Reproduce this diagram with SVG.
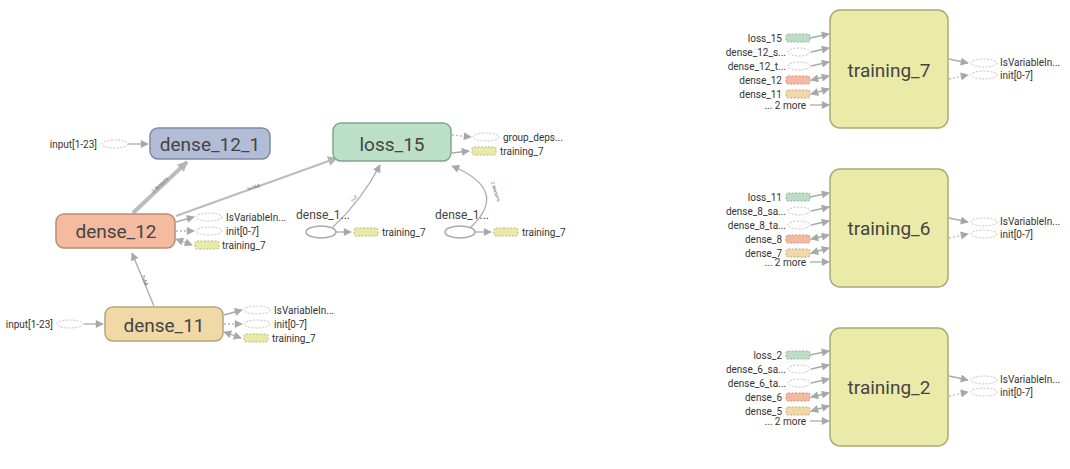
<svg xmlns="http://www.w3.org/2000/svg" width="1070" height="469" viewBox="0 0 1070 469">
<defs>
<marker id="ah" viewBox="0 0 10 10" refX="9" refY="5" markerWidth="10" markerHeight="8" markerUnits="userSpaceOnUse" orient="auto-start-reverse"><path d="M0,0 L10,5 L0,10 z" fill="#a8a8a8"/></marker>
<marker id="ahb" viewBox="0 0 10 10" refX="9" refY="5" markerWidth="12" markerHeight="10" markerUnits="userSpaceOnUse" orient="auto"><path d="M0,0 L10,5 L0,10 z" fill="#b4b4b4"/></marker>
</defs>
<style>
text{font-family:Roboto,"Liberation Sans",sans-serif;fill:#333}
.big{font-size:19px;fill:#444;text-anchor:middle;dominant-baseline:central}
.sm{font-size:10px;dominant-baseline:central}
.r{text-anchor:end}
.mid{font-size:12px;fill:#444;text-anchor:middle}
.el{font-size:5px;fill:#666;text-anchor:middle}
.e{stroke:#aaa;stroke-width:1.3;fill:none}
.ed{stroke:#bbb;stroke-width:1.3;fill:none;stroke-dasharray:2,2}
.thick{stroke:#bcbcbc;stroke-width:4;fill:none}
.ov{fill:#fff;stroke:#c4c4c4;stroke-width:1;stroke-dasharray:2,1.5}
.g{fill:#bcdcc4;stroke:#8fb89a;stroke-width:1;stroke-dasharray:2,1.5}
.s{fill:#f4b9a0;stroke:#c99680;stroke-width:1;stroke-dasharray:2,1.5}
.t{fill:#f0d8a8;stroke:#c2a97a;stroke-width:1;stroke-dasharray:2,1.5}
.y{fill:#e9e9a8;stroke:#b7b780;stroke-width:1;stroke-dasharray:2,1.5}
.sol{fill:#fff;stroke:#aaa;stroke-width:1.5}
</style>
<g id="connectors">
<path class="e" d="M128,144 L148,144" marker-end="url(#ah)"/>
<path class="thick" d="M133,213 L187,162" marker-end="url(#ahb)"/>
<text class="el" transform="translate(161,186) rotate(-43.4)">2 tensors</text>
<path class="e" stroke-width="2" d="M176,216 L337,158" marker-end="url(#ahb)" style="stroke:#bcbcbc;stroke-width:2.2"/>
<text class="el" transform="translate(254,189) rotate(-19.8)">?×168</text>
<path class="e" d="M154,306 L132,253" marker-end="url(#ah)"/>
<text class="el" transform="translate(143,281) rotate(67.5)">?×64</text>
<path class="e" d="M333,227 Q362,200 380,165" marker-end="url(#ah)"/>
<text class="el" transform="translate(356,200) rotate(-52)">?×?</text>
<path class="e" d="M471,227 Q510,190 452,166" marker-end="url(#ah)"/>
<text class="el" transform="translate(494,192) rotate(72)">2 tensors</text>
<path class="e" d="M176,222 L194,217" marker-end="url(#ah)"/>
<path class="ed" d="M176,231 L194,231" marker-end="url(#ah)"/>
<path class="e" d="M176,239 L192,245" marker-start="url(#ah)" marker-end="url(#ah)"/>
<path class="e" d="M224,315 L242,310" marker-end="url(#ah)"/>
<path class="ed" d="M224,324 L242,324" marker-end="url(#ah)"/>
<path class="e" d="M224,332 L241,338" marker-start="url(#ah)" marker-end="url(#ah)"/>
<path class="ed" d="M452,135 L471,137" marker-end="url(#ah)"/>
<path class="e" d="M452,153 L469,151" marker-end="url(#ah)"/>
<path class="e" d="M336,232 L351,232" marker-end="url(#ah)"/>
<path class="e" d="M475,232 L491,232" marker-end="url(#ah)"/>
<g id="c7">
<path class="e" d="M810,38 L829,34" marker-end="url(#ah)"/>
<path class="e" d="M811,52 L829,48" marker-end="url(#ah)"/>
<path class="e" d="M811,66 L829,62" marker-end="url(#ah)"/>
<path class="e" d="M811,80 L829,76" marker-start="url(#ah)" marker-end="url(#ah)"/>
<path class="e" d="M811,94 L829,89" marker-start="url(#ah)" marker-end="url(#ah)"/>
<path class="e" d="M810,105 L829,105" marker-end="url(#ah)"/>
<path class="e" d="M949,59 L968,63" marker-end="url(#ah)"/>
<path class="ed" d="M949,79 L968,75" marker-end="url(#ah)"/>
</g>
<g transform="translate(0,159)">
<path class="e" d="M810,38 L829,34" marker-end="url(#ah)"/>
<path class="e" d="M811,52 L829,48" marker-end="url(#ah)"/>
<path class="e" d="M811,66 L829,62" marker-end="url(#ah)"/>
<path class="e" d="M811,80 L829,76" marker-start="url(#ah)" marker-end="url(#ah)"/>
<path class="e" d="M811,94 L829,89" marker-start="url(#ah)" marker-end="url(#ah)"/>
<path class="e" d="M810,103 L829,103" marker-end="url(#ah)"/>
<path class="e" d="M949,59 L968,63" marker-end="url(#ah)"/>
<path class="ed" d="M949,79 L968,75" marker-end="url(#ah)"/>
</g>
<g transform="translate(0,317)">
<path class="e" d="M810,38 L829,34" marker-end="url(#ah)"/>
<path class="e" d="M811,52 L829,48" marker-end="url(#ah)"/>
<path class="e" d="M811,66 L829,62" marker-end="url(#ah)"/>
<path class="e" d="M811,80 L829,76" marker-start="url(#ah)" marker-end="url(#ah)"/>
<path class="e" d="M811,94 L829,89" marker-start="url(#ah)" marker-end="url(#ah)"/>
<path class="e" d="M810,104 L829,104" marker-end="url(#ah)"/>
<path class="e" d="M949,59 L968,63" marker-end="url(#ah)"/>
<path class="ed" d="M949,79 L968,75" marker-end="url(#ah)"/>
</g>
</g>
<g id="input_dense_12_1"><text class="sm r" x="97" y="144">input[1-23]</text><ellipse class="ov" cx="115" cy="144" rx="13" ry="4"/></g>
<g id="dense_12_1"><rect x="150" y="128" width="120" height="31" rx="8" fill="#b3bcd6" stroke="#7f89a4" stroke-width="1.5"/><text class="big" x="210" y="144">dense_12_1</text></g>
<g id="loss_15"><rect x="333" y="123" width="118" height="38" rx="8" fill="#bcdfc7" stroke="#7ea88b" stroke-width="1.5"/><text class="big" x="392" y="144">loss_15</text></g>
<g id="loss_15_out">
<ellipse class="ov" cx="486" cy="137" rx="13" ry="4"/><text class="sm" x="503" y="137">group_deps...</text>
<rect class="y" x="472" y="147" width="24" height="8" rx="2"/><text class="sm" x="500" y="151">training_7</text>
</g>
<g id="dense_12"><rect x="56" y="214" width="119" height="34" rx="8" fill="#f4bba0" stroke="#b88d78" stroke-width="1.5"/><text class="big" x="116" y="231">dense_12</text></g>
<g id="dense_12_out">
<ellipse class="ov" cx="209" cy="217" rx="13" ry="4"/><text class="sm" x="226" y="217">IsVariableIn...</text>
<ellipse class="ov" cx="209" cy="231" rx="13" ry="4"/><text class="sm" x="226" y="231">init[0-7]</text>
<rect class="y" x="195" y="241" width="24" height="8" rx="2"/><text class="sm" x="222" y="245">training_7</text>
</g>
<g id="dense_1a">
<text class="mid" x="323" y="219">dense_1...</text>
<ellipse class="sol" cx="321" cy="232" rx="15" ry="6"/>
<rect class="y" x="354" y="228" width="24" height="8" rx="2"/><text class="sm" x="382" y="232">training_7</text>
</g>
<g id="dense_1b">
<text class="mid" x="462" y="219">dense_1...</text>
<ellipse class="sol" cx="460" cy="232" rx="15" ry="6"/>
<rect class="y" x="494" y="228" width="24" height="8" rx="2"/><text class="sm" x="522" y="232">training_7</text>
</g>
<g id="input_dense_11"><text class="sm r" x="53" y="324">input[1-23]</text><ellipse class="ov" cx="70" cy="324" rx="13" ry="4"/><path class="e" d="M84,324 L103,324" marker-end="url(#ah)"/></g>
<g id="dense_11"><rect x="105" y="307" width="118" height="34" rx="8" fill="#f0d9a7" stroke="#b9a47a" stroke-width="1.5"/><text class="big" x="164" y="325">dense_11</text></g>
<g id="dense_11_out">
<ellipse class="ov" cx="257" cy="310" rx="13" ry="4"/><text class="sm" x="274" y="310">IsVariableIn...</text>
<ellipse class="ov" cx="257" cy="324" rx="13" ry="4"/><text class="sm" x="274" y="324">init[0-7]</text>
<rect class="y" x="244" y="334" width="24" height="8" rx="2"/><text class="sm" x="272" y="338">training_7</text>
</g>
<g id="training_7">
<rect x="830" y="10" width="118" height="118" rx="10" fill="#ebeba9" stroke="#a9a977" stroke-width="1.5"/><text class="big" x="889" y="70">training_7</text>
<text class="sm r" x="782" y="38">loss_15</text><rect class="g" x="786" y="34" width="24" height="8" rx="2"/>
<text class="sm r" x="786" y="52">dense_12_s...</text><ellipse class="ov" cx="799" cy="52" rx="11" ry="4"/>
<text class="sm r" x="786" y="66">dense_12_t...</text><ellipse class="ov" cx="799" cy="66" rx="11" ry="4"/>
<text class="sm r" x="782" y="80">dense_12</text><rect class="s" x="786" y="76" width="24" height="8" rx="2"/>
<text class="sm r" x="782" y="94">dense_11</text><rect class="t" x="786" y="90" width="24" height="8" rx="2"/>
<text class="sm r" x="806" y="105">... 2 more</text>
<ellipse class="ov" cx="984" cy="63" rx="13" ry="4"/><text class="sm" x="1000" y="62">IsVariableIn...</text>
<ellipse class="ov" cx="984" cy="75" rx="13" ry="4"/><text class="sm" x="1000" y="75">init[0-7]</text>
</g>
<g id="training_6">
<rect x="830" y="169" width="118" height="118" rx="10" fill="#ebeba9" stroke="#a9a977" stroke-width="1.5"/><text class="big" x="889" y="228">training_6</text>
<text class="sm r" x="782" y="197">loss_11</text><rect class="g" x="786" y="193" width="24" height="8" rx="2"/>
<text class="sm r" x="786" y="211">dense_8_sa...</text><ellipse class="ov" cx="799" cy="211" rx="11" ry="4"/>
<text class="sm r" x="786" y="225">dense_8_ta...</text><ellipse class="ov" cx="799" cy="225" rx="11" ry="4"/>
<text class="sm r" x="782" y="239">dense_8</text><rect class="s" x="786" y="235" width="24" height="8" rx="2"/>
<text class="sm r" x="782" y="253">dense_7</text><rect class="t" x="786" y="249" width="24" height="8" rx="2"/>
<text class="sm r" x="806" y="262">... 2 more</text>
<ellipse class="ov" cx="984" cy="222" rx="13" ry="4"/><text class="sm" x="1000" y="221">IsVariableIn...</text>
<ellipse class="ov" cx="984" cy="234" rx="13" ry="4"/><text class="sm" x="1000" y="234">init[0-7]</text>
</g>
<g id="training_2">
<rect x="830" y="328" width="118" height="118" rx="10" fill="#ebeba9" stroke="#a9a977" stroke-width="1.5"/><text class="big" x="889" y="387">training_2</text>
<text class="sm r" x="782" y="355">loss_2</text><rect class="g" x="786" y="351" width="24" height="8" rx="2"/>
<text class="sm r" x="786" y="369">dense_6_sa...</text><ellipse class="ov" cx="799" cy="369" rx="11" ry="4"/>
<text class="sm r" x="786" y="383">dense_6_ta...</text><ellipse class="ov" cx="799" cy="383" rx="11" ry="4"/>
<text class="sm r" x="782" y="397">dense_6</text><rect class="s" x="786" y="393" width="24" height="8" rx="2"/>
<text class="sm r" x="782" y="411">dense_5</text><rect class="t" x="786" y="407" width="24" height="8" rx="2"/>
<text class="sm r" x="806" y="421">... 2 more</text>
<ellipse class="ov" cx="984" cy="380" rx="13" ry="4"/><text class="sm" x="1000" y="379">IsVariableIn...</text>
<ellipse class="ov" cx="984" cy="392" rx="13" ry="4"/><text class="sm" x="1000" y="392">init[0-7]</text>
</g>
</svg>
